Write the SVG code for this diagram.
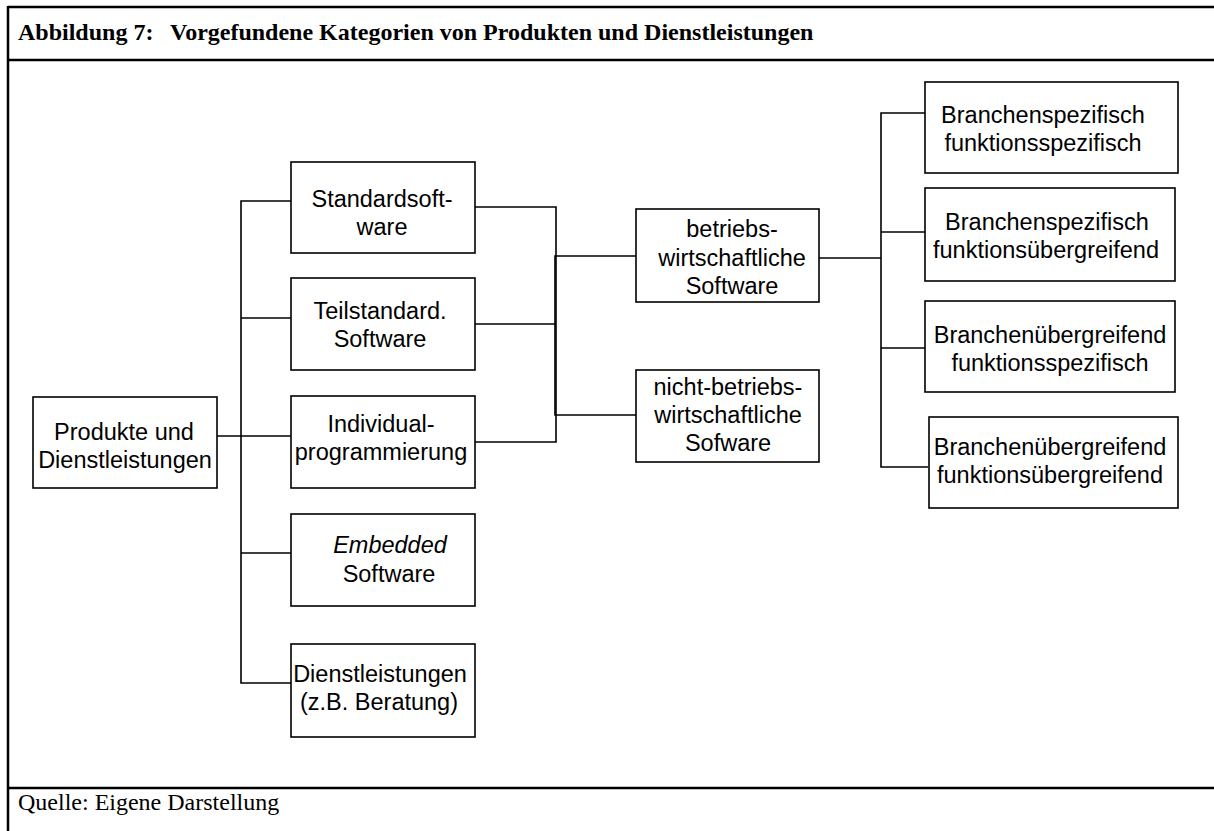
<svg xmlns="http://www.w3.org/2000/svg" width="1214" height="831" viewBox="0 0 1214 831">
<style>
.frame{stroke:#000;stroke-width:2.5;fill:none}
.box{fill:#fff;stroke:#000;stroke-width:1.6}
.con{stroke:#000;stroke-width:1.6;fill:none}
.t{font-family:"Liberation Sans",Arial,sans-serif;font-size:23.5px;fill:#000;text-anchor:middle}
.title{font-family:"Liberation Serif","Times New Roman",serif;font-size:24px;font-weight:bold;fill:#000}
.foot{font-family:"Liberation Serif","Times New Roman",serif;font-size:24px;fill:#000}
</style>
<rect width="1214" height="831" fill="#fff"/>
<g id="frame">
<line class="frame" x1="8" y1="7" x2="1214" y2="7"/>
<line class="frame" x1="8" y1="60" x2="1214" y2="60"/>
<line class="frame" x1="8" y1="788" x2="1214" y2="788"/>
<line class="frame" x1="8" y1="6" x2="8" y2="831"/>
<text class="title" x="18" y="40">Abbildung 7:<tspan x="170">Vorgefundene Kategorien von Produkten und Dienstleistungen</tspan></text>
<text class="foot" x="18" y="810">Quelle: Eigene Darstellung</text>
</g>
<g id="connectors">
<polyline class="con" points="291,201 241,201 241,683 291,683"/>
<line class="con" x1="241" y1="318" x2="291" y2="318"/>
<line class="con" x1="217" y1="436" x2="291" y2="436"/>
<line class="con" x1="241" y1="553" x2="291" y2="553"/>
<polyline class="con" points="475,207 556,207 556,442 475,442"/>
<line class="con" x1="475" y1="324" x2="556" y2="324"/>
<polyline class="con" points="636,256 555,256 555,415 636,415"/>
<line class="con" x1="819" y1="258" x2="881" y2="258"/>
<polyline class="con" points="932,113 881,113 881,467 928,467"/>
<line class="con" x1="881" y1="232" x2="928" y2="232"/>
<line class="con" x1="881" y1="348" x2="928" y2="348"/>
</g>
<g id="n-produkte">
<rect class="box" x="33" y="397" width="184" height="91"/>
<text class="t" x="124" y="440">Produkte und</text>
<text class="t" x="125" y="468">Dienstleistungen</text>
</g>
<g id="n-standard">
<rect class="box" x="291" y="162" width="184" height="91"/>
<text class="t" x="382" y="207">Standardsoft-</text>
<text class="t" x="382" y="235">ware</text>
</g>
<g id="n-teil">
<rect class="box" x="291" y="278" width="184" height="92"/>
<text class="t" x="380" y="319">Teilstandard.</text>
<text class="t" x="380" y="347">Software</text>
</g>
<g id="n-individual">
<rect class="box" x="291" y="396" width="184" height="92"/>
<text class="t" x="381" y="432">Individual-</text>
<text class="t" x="381" y="460">programmierung</text>
</g>
<g id="n-embedded">
<rect class="box" x="291" y="514" width="184" height="92"/>
<text class="t" x="390" y="553" font-style="italic">Embedded</text>
<text class="t" x="389" y="582">Software</text>
</g>
<g id="n-dienst">
<rect class="box" x="291" y="644" width="184" height="93"/>
<text class="t" x="380" y="682">Dienstleistungen</text>
<text class="t" x="379" y="710">(z.B. Beratung)</text>
</g>
<g id="n-betriebs">
<rect class="box" x="636" y="209" width="183" height="93"/>
<text class="t" x="732" y="237">betriebs-</text>
<text class="t" x="732" y="266">wirtschaftliche</text>
<text class="t" x="732" y="294">Software</text>
</g>
<g id="n-nicht">
<rect class="box" x="636" y="370" width="183" height="92"/>
<text class="t" x="728" y="395">nicht-betriebs-</text>
<text class="t" x="728" y="423">wirtschaftliche</text>
<text class="t" x="728" y="451">Sofware</text>
</g>
<g id="n-bs-fs">
<rect class="box" x="925" y="82" width="253" height="91"/>
<text class="t" x="1043" y="123">Branchenspezifisch</text>
<text class="t" x="1043" y="151">funktionsspezifisch</text>
</g>
<g id="n-bs-fu">
<rect class="box" x="925" y="188" width="250" height="93"/>
<text class="t" x="1047" y="230">Branchenspezifisch</text>
<text class="t" x="1046" y="258">funktionsübergreifend</text>
</g>
<g id="n-bu-fs">
<rect class="box" x="925" y="301" width="250" height="91"/>
<text class="t" x="1050" y="343">Branchenübergreifend</text>
<text class="t" x="1050" y="371">funktionsspezifisch</text>
</g>
<g id="n-bu-fu">
<rect class="box" x="929" y="417" width="249" height="91"/>
<text class="t" x="1050" y="455">Branchenübergreifend</text>
<text class="t" x="1050" y="483">funktionsübergreifend</text>
</g>
</svg>
